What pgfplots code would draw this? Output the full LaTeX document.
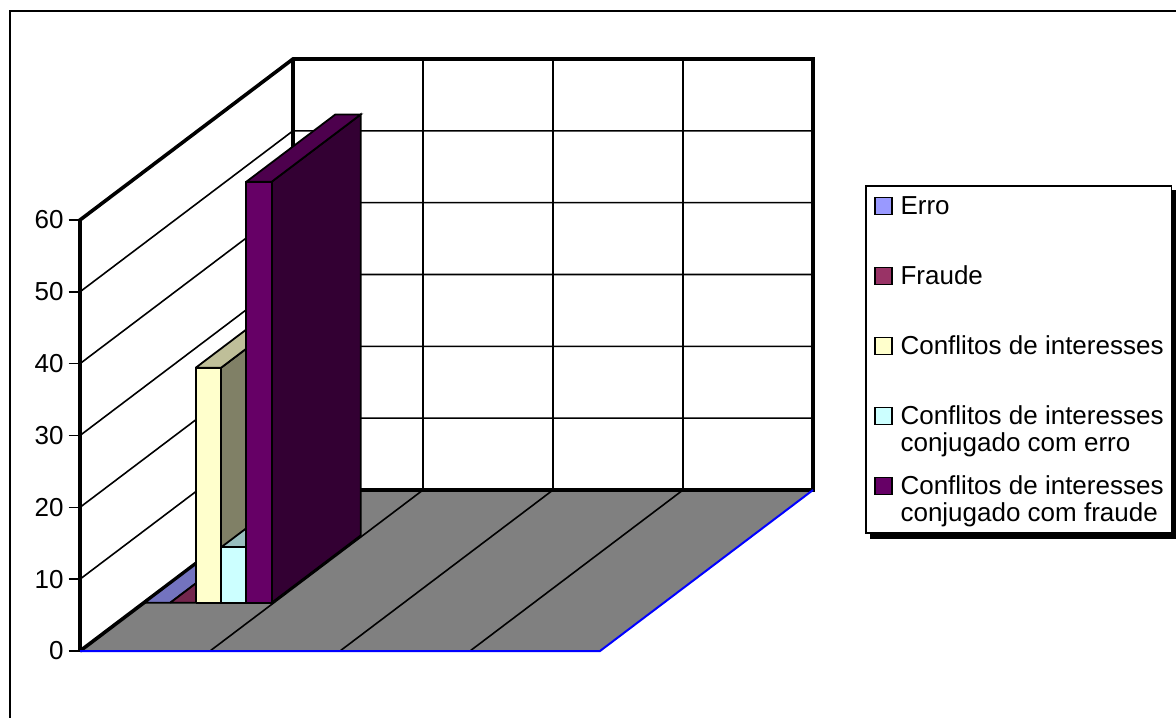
\documentclass[border=0pt]{standalone}
\usepackage{pgfplots}
\pgfplotsset{compat=1.18}
\usepackage{fontspec}
\setmainfont{Liberation Sans}
\definecolor{erroF}{HTML}{9999FF}
\definecolor{erroT}{HTML}{7373BF}
\definecolor{fraF}{HTML}{993366}
\definecolor{fraT}{HTML}{73264D}
\definecolor{ciF}{HTML}{FFFFCC}
\definecolor{ciT}{HTML}{BFBF99}
\definecolor{ciS}{HTML}{808066}
\definecolor{ceF}{HTML}{CCFFFF}
\definecolor{ceT}{HTML}{99BFBF}
\definecolor{ceS}{HTML}{668080}
\definecolor{cfF}{HTML}{660066}
\definecolor{cfT}{HTML}{4D004D}
\definecolor{cfS}{HTML}{330033}
\definecolor{floorgray}{HTML}{808080}
\begin{document}
\begin{tikzpicture}
\useasboundingbox (0,0) rectangle (588pt,-358.5pt);
\clip (0,0) rectangle (588pt,-358.5pt);
\draw[line width=1.2pt] (5pt,-5.5pt) rectangle (620pt,-400pt);
\begin{axis}[
  at={(40pt,-325.5pt)}, anchor=origin,
  x={(65pt,0pt)}, y={(106.5pt,80.5pt)}, z={(0pt,3.5917pt)},
  xmin=0, xmax=4, ymin=0, ymax=1, zmin=0, zmax=60,
  clip=false,
  axis lines=left,
  axis line style={-},
  x axis line style={draw=none},
  y axis line style={draw=none},
  z axis line style={line width=1.8pt, -},
  xtick=\empty, ytick=\empty,
  ztick={0,10,...,60},
  tick align=inside,
  major tick length=0pt,
  every tick/.style={draw=none},
  /pgf/number format/assume math mode=true,
  tick label style={font=\fontsize{13}{15}\selectfont},
  zticklabel style={anchor=east, inner sep=0pt, xshift=-8pt},
  legend image code/.code={\draw[#1] (0pt,0pt) rectangle (8.5pt,8.5pt);},
  legend style={at={(axis description cs:1.071,0.7875)}, anchor=north west,
     name=lg,
     draw=black, line width=0.9pt, fill=white,
     inner xsep=4pt, inner ysep=3pt, row sep=0pt, column sep=4pt,
     font=\fontsize{13}{13.5}\selectfont},
]
% floor
\addplot3[fill=floorgray, draw=none, forget plot] coordinates {(0,0,0) (4,0,0) (4,1,0) (0,1,0)};
% grid lines
\pgfplotsinvokeforeach{10,20,30,40,50}{
  \addplot3[black, line width=0.8pt, forget plot] coordinates {(0,0,#1) (0,1,#1) (4,1,#1)};
}
\pgfplotsinvokeforeach{1,2,3}{
  \addplot3[black, line width=0.8pt, forget plot] coordinates {(#1,0,0) (#1,1,0) (#1,1,60)};
}
% tick marks on the value axis
\pgfplotsinvokeforeach{0,10,20,30,40,50,60}{
  \addplot3[black, line width=0.8pt, forget plot] coordinates {(-0.088,0,#1) (0,0,#1)};
}
% thick wall edges
\addplot3[black, line width=1.8pt, forget plot] coordinates {(0,0,0) (0,0,60) (0,1,60) (4,1,60) (4,1,0) (0,1,0) (0,0,0)};
\addplot3[black, line width=1.8pt, forget plot] coordinates {(0,1,0) (0,1,60)};
\addplot3[blue, line width=1pt, forget plot] coordinates {(0,0,0) (4,0,0) (4,1,0)};
% Erro = 0
\addplot3[fill=erroT, draw=black, line width=0.9pt, forget plot] coordinates {(0.008,0.3,0) (0.203,0.3,0) (0.203,0.718,0) (0.008,0.718,0) (0.008,0.3,0)};
% Fraude = 0
\addplot3[fill=fraT, draw=black, line width=0.9pt, forget plot] coordinates {(0.203,0.3,0) (0.398,0.3,0) (0.398,0.718,0) (0.203,0.718,0) (0.203,0.3,0)};
% Conflitos de interesses = 32.7
\addplot3[fill=ciS, draw=black, line width=0.9pt, forget plot] coordinates {(0.593,0.3,0) (0.593,0.718,0) (0.593,0.718,32.7) (0.593,0.3,32.7) (0.593,0.3,0)};
\addplot3[fill=ciT, draw=black, line width=0.9pt, forget plot] coordinates {(0.398,0.3,32.7) (0.593,0.3,32.7) (0.593,0.718,32.7) (0.398,0.718,32.7) (0.398,0.3,32.7)};
\addplot3[fill=ciF, draw=black, line width=0.9pt, forget plot] coordinates {(0.398,0.3,0) (0.593,0.3,0) (0.593,0.3,32.7) (0.398,0.3,32.7) (0.398,0.3,0)};
% Conflitos + erro = 7.7
\addplot3[fill=ceS, draw=black, line width=0.9pt, forget plot] coordinates {(0.788,0.3,0) (0.788,0.718,0) (0.788,0.718,7.7) (0.788,0.3,7.7) (0.788,0.3,0)};
\addplot3[fill=ceT, draw=black, line width=0.9pt, forget plot] coordinates {(0.593,0.3,7.7) (0.788,0.3,7.7) (0.788,0.718,7.7) (0.593,0.718,7.7) (0.593,0.3,7.7)};
\addplot3[fill=ceF, draw=black, line width=0.9pt, forget plot] coordinates {(0.593,0.3,0) (0.788,0.3,0) (0.788,0.3,7.7) (0.593,0.3,7.7) (0.593,0.3,0)};
% Conflitos + fraude = 58.6
\addplot3[fill=cfS, draw=black, line width=0.9pt, forget plot] coordinates {(0.983,0.3,0) (0.983,0.718,0) (0.983,0.718,58.6) (0.983,0.3,58.6) (0.983,0.3,0)};
\addplot3[fill=cfT, draw=black, line width=0.9pt, forget plot] coordinates {(0.788,0.3,58.6) (0.983,0.3,58.6) (0.983,0.718,58.6) (0.788,0.718,58.6) (0.788,0.3,58.6)};
\addplot3[fill=cfF, draw=black, line width=0.9pt, forget plot] coordinates {(0.788,0.3,0) (0.983,0.3,0) (0.983,0.3,58.6) (0.788,0.3,58.6) (0.788,0.3,0)};
% legend
\addlegendimage{fill=erroF, draw=black, line width=0.8pt}
\addlegendentry[anchor=base west, inner sep=0pt, text height=11.5pt, text depth=23.5pt]{Erro}
\addlegendimage{fill=fraF, draw=black, line width=0.8pt}
\addlegendentry[anchor=base west, inner sep=0pt, text height=11.5pt, text depth=23.5pt]{Fraude}
\addlegendimage{fill=ciF, draw=black, line width=0.8pt}
\addlegendentry[anchor=base west, inner sep=0pt, text height=11.5pt, text depth=23.5pt]{Conflitos de interesses}
\addlegendimage{fill=ceF, draw=black, line width=0.8pt}
\addlegendentry[anchor=base west, inner sep=0pt, text height=11.5pt, text depth=23.5pt]{\vtop{\hbox{Conflitos de interesses}\hbox{conjugado com erro}}}
\addlegendimage{fill=cfF, draw=black, line width=0.8pt}
\addlegendentry[anchor=base west, inner sep=0pt, text height=11.5pt, text depth=16pt]{\vtop{\hbox{Conflitos de interesses}\hbox{conjugado com fraude}}}
\end{axis}
\fill[black] ([xshift=2.5pt,yshift=0.45pt]lg.south west) rectangle ([xshift=2.5pt,yshift=-2.5pt]lg.south east);
\fill[black] ([xshift=-0.45pt,yshift=-2.5pt]lg.north east) rectangle ([xshift=2.5pt,yshift=-2.5pt]lg.south east);
\end{tikzpicture}
\end{document}
